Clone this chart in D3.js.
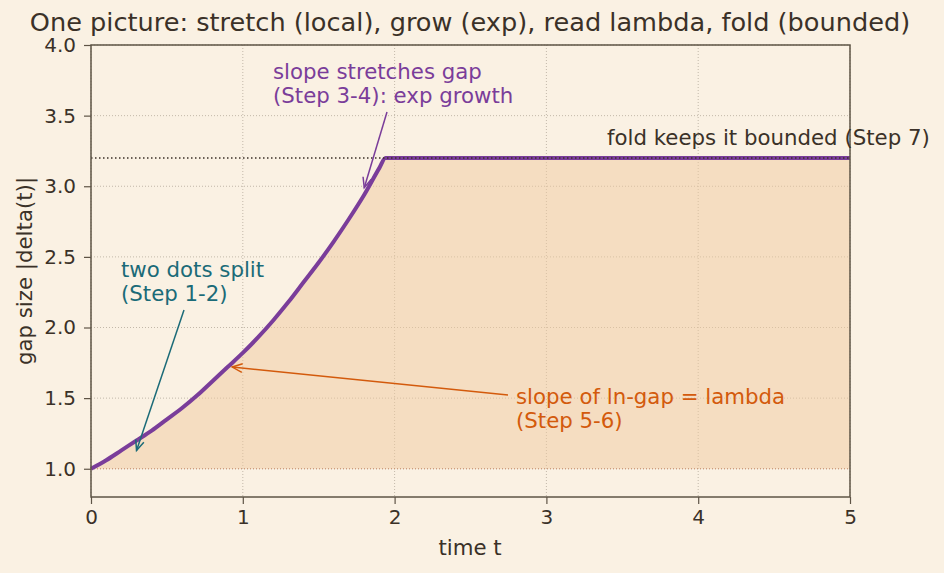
<!DOCTYPE html>
<html><head><meta charset="utf-8">
<script src="https://cdn.jsdelivr.net/npm/d3@7"></script>
<style>
html,body{margin:0;padding:0;background:#faf1e3;}
svg{display:block;font-family:"DejaVu Sans",sans-serif;}
</style></head><body>
<svg id="c" width="944" height="573"></svg>
<script>
// ---- data ----
const timeT = [0,0.1,0.2,0.3,0.4,0.5,0.6,0.7,0.8,0.9,1.0,1.1,1.2,1.3,1.4,1.5,1.6,1.7,1.8,1.9,1.94,5.0];
const gapSize = [1.00,1.06,1.13,1.20,1.27,1.35,1.43,1.52,1.62,1.72,1.82,1.93,2.05,2.18,2.32,2.46,2.61,2.77,2.94,3.13,3.20,3.20];
const foldLevel = 3.2;
const baseLevel = 1.0;
const xTicks = [0,1,2,3,4,5];
const yTicks = [1.0,1.5,2.0,2.5,3.0,3.5,4.0];
const titleText = "One picture: stretch (local), grow (exp), read lambda, fold (bounded)";
const xLabel = "time t";
const yLabel = "gap size |delta(t)|";
const notes = [
  {lines:["two dots split","(Step 1-2)"], tx:121, ty:277, from:[184,310], at:[0.3,1.13], color:"#1b6b78"},
  {lines:["slope stretches gap","(Step 3-4): exp growth"], tx:273, ty:79, from:[387,112], at:[1.8,2.99], color:"#7a3d9a"},
  {lines:["slope of ln-gap = lambda","(Step 5-6)"], tx:516, ty:404, from:[508,395], at:[0.93,1.72], color:"#d35a0c"}
];
const foldNote = "fold keeps it bounded (Step 7)";

// ---- layout ----
const svg = d3.select("#c");
const L=91, R=850, T=45, B=497;
const x = d3.scaleLinear().domain([0,5]).range([L,R]);
const y = d3.scaleLinear().domain([0.8,4.0]).range([B,T]);
const ink = "#3b3128", spine="#5e5446";
const fs = 21.3;

svg.append("rect").attr("width",944).attr("height",573).attr("fill","#faf1e3");

// grid
const g = svg.append("g");
g.selectAll(".gx").data(xTicks).join("line")
  .attr("x1",d=>x(d)).attr("x2",d=>x(d)).attr("y1",T).attr("y2",B)
  .attr("stroke","#b4aa9a").attr("stroke-width",0.8).attr("stroke-dasharray","1,2");
g.selectAll(".gy").data(yTicks).join("line")
  .attr("x1",L).attr("x2",R).attr("y1",d=>y(d)).attr("y2",d=>y(d))
  .attr("stroke","#b4aa9a").attr("stroke-width",0.8).attr("stroke-dasharray","1,2");

const pts = timeT.map((t,i)=>[t,gapSize[i]]);
// fill
svg.append("path").datum(pts)
  .attr("d", d3.area().x(d=>x(d[0])).y0(y(baseLevel)).y1(d=>y(d[1])).curve(d3.curveMonotoneX))
  .attr("fill","#f0c9a0").attr("fill-opacity",0.5);
// baseline
svg.append("line").attr("x1",L).attr("x2",R).attr("y1",y(baseLevel)).attr("y2",y(baseLevel))
  .attr("stroke","#c0704a").attr("stroke-width",0.8).attr("stroke-dasharray","1,2").attr("opacity",0.8);
// curve
svg.append("path").datum(pts)
  .attr("d", d3.line().x(d=>x(d[0])).y(d=>y(d[1])).curve(d3.curveMonotoneX))
  .attr("fill","none").attr("stroke","#7a3d9a").attr("stroke-width",4).attr("stroke-linejoin","round");
// fold line
svg.append("line").attr("x1",L).attr("x2",R).attr("y1",y(foldLevel)).attr("y2",y(foldLevel))
  .attr("stroke","#3b3128").attr("stroke-width",1.5).attr("stroke-dasharray","1.5,2.5");

// axes
const xa = svg.append("g").attr("transform",`translate(0,${B})`)
  .call(d3.axisBottom(x).tickValues(xTicks).tickFormat(d3.format("d")).tickSizeOuter(0).tickSize(7).tickPadding(6));
const ya = svg.append("g").attr("transform",`translate(${L},0)`)
  .call(d3.axisLeft(y).tickValues(yTicks).tickFormat(d3.format(".1f")).tickSizeOuter(0).tickSize(7).tickPadding(8));
[xa,ya].forEach(a=>{
  a.select(".domain").remove();
  a.selectAll("line").attr("stroke",spine).attr("stroke-width",1.2);
  a.selectAll("text").attr("fill",ink).attr("font-size",20).attr("font-family","DejaVu Sans");
});
svg.append("rect").attr("x",L).attr("y",T).attr("width",R-L).attr("height",B-T)
  .attr("fill","none").attr("stroke",spine).attr("stroke-width",1.5);

// labels
svg.append("text").attr("x",470).attr("y",555).attr("text-anchor","middle")
  .attr("fill",ink).attr("font-size",fs).text(xLabel);
svg.append("text").attr("transform",`translate(32,${(T+B)/2}) rotate(-90)`).attr("text-anchor","middle")
  .attr("fill",ink).attr("font-size",fs).text(yLabel);
svg.append("text").attr("x",470).attr("y",31).attr("text-anchor","middle")
  .attr("fill",ink).attr("font-size",25.6).text(titleText);

// annotations
function arrow(x1,y1,x2,y2,color){
  svg.append("line").attr("x1",x1).attr("y1",y1).attr("x2",x2).attr("y2",y2)
    .attr("stroke",color).attr("stroke-width",1.5);
  const a=Math.atan2(y2-y1,x2-x1), h=11, w=0.4;
  const p1=[x2-h*Math.cos(a-w), y2-h*Math.sin(a-w)], p2=[x2-h*Math.cos(a+w), y2-h*Math.sin(a+w)];
  svg.append("path").attr("d",`M${p1}L${x2},${y2}L${p2}`).attr("fill","none")
    .attr("stroke",color).attr("stroke-width",1.5);
}
notes.forEach(n=>{
  const t=svg.append("text").attr("x",n.tx).attr("y",n.ty).attr("fill",n.color).attr("font-size",fs);
  n.lines.forEach((l,i)=>t.append("tspan").attr("x",n.tx).attr("dy",i?23.5:0).text(l));
  arrow(n.from[0],n.from[1],x(n.at[0]),y(n.at[1]),n.color);
});
svg.append("text").attr("x",607).attr("y",145).attr("fill",ink).attr("font-size",fs).text(foldNote);
</script></body></html>
